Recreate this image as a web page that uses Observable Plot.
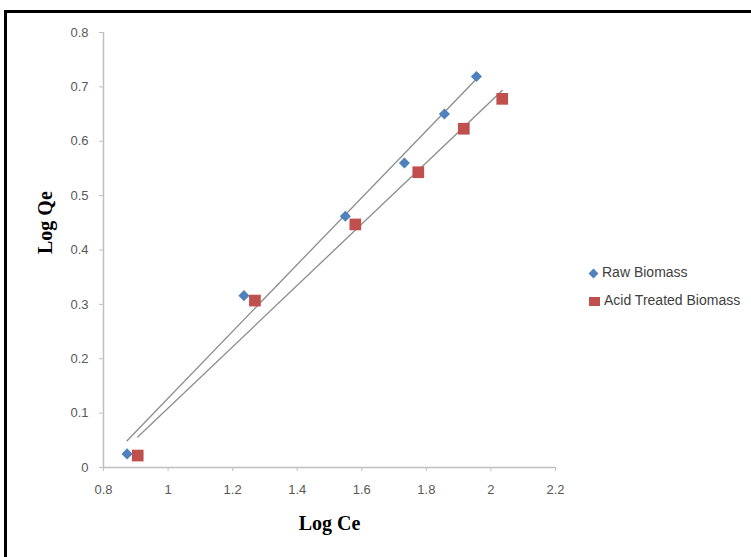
<!DOCTYPE html>
<html><head><meta charset="utf-8">
<script src="https://cdn.jsdelivr.net/npm/d3@7"></script>
<script src="https://cdn.jsdelivr.net/npm/@observablehq/plot@0.6"></script>
<style>
body{margin:0;background:#fff;}
#wrap{position:relative;width:751px;height:557px;overflow:hidden;background:#fff;}
#chart{position:absolute;left:0;top:0;}
#frame{position:absolute;left:4px;top:10px;width:800px;height:600px;border-left:3.5px solid #000;border-top:3.5px solid #000;pointer-events:none;}
.leg{position:absolute;left:589px;font:14px "Liberation Sans",Arial,sans-serif;color:#404040;white-space:nowrap;line-height:16px;}
.leg .sym{display:inline-block;vertical-align:middle;margin-right:4px;}
.dia{width:7px;height:7px;background:#4F81BD;transform:rotate(45deg);margin-left:1px;margin-right:5px !important;}
.sq{width:11px;height:9px;background:#C0504D;}
#chart svg g[aria-label$="axis"] line, #chart svg g[aria-label$="tick"] path{stroke:#bfbfbf;}
</style>
</head><body>
<div id="wrap">
  <div id="chart"></div>
  <div class="leg" style="top:264px"><span class="sym dia"></span>Raw Biomass</div>
  <div class="leg" style="top:292px"><span class="sym sq"></span>Acid Treated Biomass</div>
  <div id="frame"></div>
</div>
<script>
// Data
const rawLogCe  = [0.873, 1.235, 1.549, 1.732, 1.856, 1.955];
const rawLogQe  = [0.025, 0.316, 0.462, 0.560, 0.650, 0.719];
const acidLogCe = [0.906, 1.269, 1.580, 1.775, 1.916, 2.035];
const acidLogQe = [0.022, 0.307, 0.447, 0.543, 0.623, 0.678];
const xTicks = [0.8, 1, 1.2, 1.4, 1.6, 1.8, 2, 2.2];
const yTicks = [0, 0.1, 0.2, 0.3, 0.4, 0.5, 0.6, 0.7, 0.8];
const xTitle = "Log Ce";
const yTitle = "Log Qe";

const raw = rawLogCe.map((x, i) => ({x, y: rawLogQe[i]}));
const acid = acidLogCe.map((x, i) => ({x, y: acidLogQe[i]}));

const chart = Plot.plot({
  width: 751,
  height: 557,
  marginLeft: 103,
  marginRight: 196,
  marginTop: 32,
  marginBottom: 90,
  style: {fontFamily: "'Liberation Sans', Arial, sans-serif", fontSize: "13px", color: "#595959", background: "transparent"},
  x: {domain: [0.8, 2.2], ticks: xTicks, tickFormat: d => String(d), tickSize: 4, tickPadding: 13, label: null},
  y: {domain: [0, 0.8], ticks: yTicks, tickFormat: d => String(d), tickSize: 4, tickPadding: 11, label: null},
  marks: [
    Plot.ruleY([0], {stroke: "#bfbfbf", strokeWidth: 1.5}),
    Plot.ruleX([0.8], {stroke: "#bfbfbf", strokeWidth: 1.5}),
    Plot.linearRegressionY(raw, {x: "x", y: "y", ci: 0, stroke: "#8c8c8c", strokeWidth: 1.3}),
    Plot.linearRegressionY(acid, {x: "x", y: "y", ci: 0, stroke: "#8c8c8c", strokeWidth: 1.3}),
    Plot.dot(raw, {x: "x", y: "y", symbol: "diamond2", r: 5, fill: "#4F81BD", stroke: "none"}),
    Plot.dot(acid, {x: "x", y: "y", symbol: "square", r: 6.6, fill: "#C0504D", stroke: "none"}),
    Plot.text([xTitle], {frameAnchor: "bottom", dy: 62, text: d => d, fontFamily: "'Liberation Serif', 'Times New Roman', serif", fontSize: 20, fontWeight: "bold", fill: "#000"}),
    Plot.text([yTitle], {frameAnchor: "left", dx: -58, dy: 4, rotate: -90, text: d => d, fontFamily: "'Liberation Serif', 'Times New Roman', serif", fontSize: 20, fontWeight: "bold", fill: "#000"})
  ]
});
document.getElementById("chart").appendChild(chart);
</script>
</body></html>
